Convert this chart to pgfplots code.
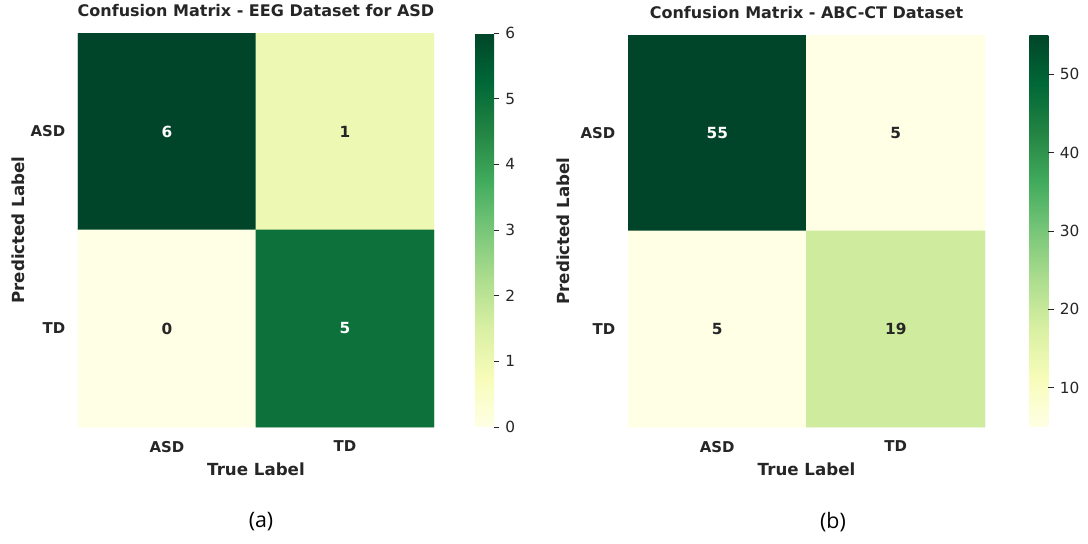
\documentclass[border=0pt]{standalone}
\usepackage{pgfplots}
\pgfplotsset{compat=1.18}
\usepackage{fontspec}
\setmainfont{DejaVu Sans}
\newfontfamily\capfont{Open Sans}

\definecolor{txt}{HTML}{262626}
\pgfplotsset{
  /pgf/number format/assume math mode=true,
  colormap={YlGn}{rgb255=(255,255,229) rgb255=(247,252,185) rgb255=(217,240,163)
    rgb255=(173,221,142) rgb255=(120,198,121) rgb255=(65,171,93)
    rgb255=(35,132,67) rgb255=(0,104,55) rgb255=(0,69,41)},
  cmstyle/.style={
    scale only axis,
    colormap name=YlGn,
    xmin=-0.5, xmax=1.5, ymin=-0.5, ymax=1.5,
    y dir=reverse,
    xtick={0,1}, ytick={0,1},
    xticklabels={ASD,TD}, yticklabels={ASD,TD},
    major tick length=0pt,
    axis line style={draw=none},
    tick label style={font=\bfseries\fontsize{11.2}{13}\selectfont, text=txt},
    xticklabel style={yshift=-7pt},
    yticklabel style={xshift=-6pt},
    label style={font=\bfseries\fontsize{12.5}{14}\selectfont, text=txt},
    xlabel={True Label},
    ylabel={Predicted Label},
    xlabel style={at={(axis description cs:0.5,-0.108)}, anchor=center},
    title style={font=\bfseries\fontsize{12}{14}\selectfont, text=txt,
      at={(axis description cs:0.5,1.036)}, anchor=center},
    colorbar,
    colorbar style={
      at={(parent axis.north east)}, anchor=north west,
      width=14pt,
      ytick pos=right,
      tick align=outside,
      major tick length=4pt,
      major tick style={draw=txt, line width=0.6pt},
      axis line style={draw=none},
      yticklabel style={font=\fontsize{11.5}{13}\selectfont, text=txt, xshift=1pt},
    },
  },
  cell/.style={draw=none, mark=none, nodes near coords, point meta=explicit symbolic,
    nodes near coords style={anchor=center, font=\bfseries\fontsize{11.5}{13}\selectfont, text=#1}},
}

\begin{document}
\begin{tikzpicture}
\path[use as bounding box] (0,0) rectangle (816pt,407.25pt);

% EEG dataset
\begin{axis}[cmstyle,
  at={(58.5pt,87pt)}, anchor=south west,
  width=267pt, height=295.5pt,
  title={Confusion Matrix - EEG Dataset for ASD},
  ylabel style={at={(axis description cs:-0.168,0.5)}, anchor=center},
  point meta min=0, point meta max=6,
  colorbar style={xshift=22.5pt, ytick={0,1,2,3,4,5,6}},
]
\addplot[matrix plot*, mesh/cols=2, point meta=explicit] table[meta=c] {
x y c
0 0 6
1 0 1
0 1 0
1 1 5
};
\addplot[cell=white] table[meta=c] {
x y c
0 0 6
1 1 5
};
\addplot[cell=txt] table[meta=c] {
x y c
1 0 1
0 1 0
};
\end{axis}

% ABC-CT dataset
\begin{axis}[cmstyle,
  at={(471pt,87pt)}, anchor=south west,
  width=267.75pt, height=294pt,
  title={Confusion Matrix - ABC-CT Dataset},
  ylabel style={at={(axis description cs:-0.182,0.5)}, anchor=center},
  point meta min=5, point meta max=55,
  colorbar style={xshift=24.75pt, width=14.25pt, ytick={10,20,30,40,50}},
]
\addplot[matrix plot*, mesh/cols=2, point meta=explicit] table[meta=c] {
x y c
0 0 55
1 0 5
0 1 5
1 1 19
};
\addplot[cell=white] table[meta=c] {
x y c
0 0 55
};
\addplot[cell=txt] table[meta=c] {
x y c
1 0 5
0 1 5
1 1 19
};
\end{axis}

\node[font=\capfont\fontsize{16}{18}\selectfont, text=black] at (195.75pt,15.75pt) {(a)};
\node[font=\capfont\fontsize{16}{18}\selectfont, text=black] at (624.75pt,15.75pt) {(b)};
\end{tikzpicture}
\end{document}
